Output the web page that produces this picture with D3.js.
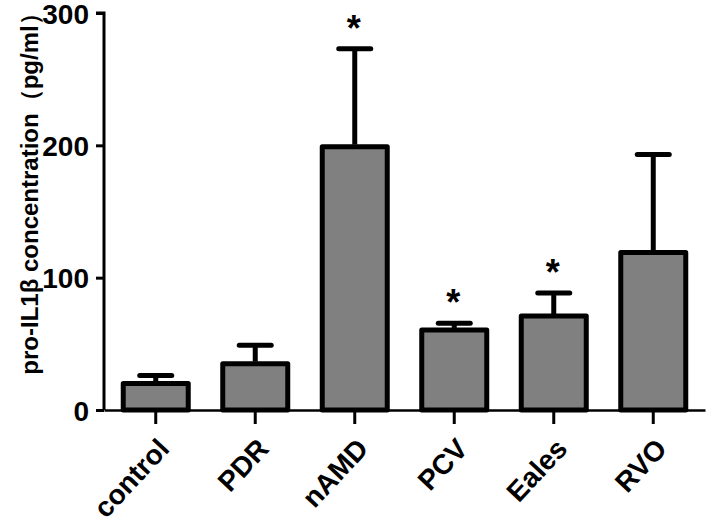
<!DOCTYPE html>
<html>
<head>
<meta charset="utf-8">
<script src="https://cdn.jsdelivr.net/npm/d3@7"></script>
<style>
  body { margin: 0; background: #fff; }
  svg text { font-family: Arial, "Liberation Sans", sans-serif; font-weight: bold; fill: #000; }
</style>
</head>
<body>
<div id="chart"></div>
<script>
// groups and measured means / error tops (pg/ml)
var groups = ['control', 'PDR', 'nAMD', 'PCV', 'Eales', 'RVO'];
var means = [20, 35, 199, 60.5, 71, 119];
var errs = [6, 14, 74, 5, 17.5, 74];
var significant = [false, false, true, true, true, false];
var yTicks = [0, 100, 200, 300];

var width = 710, height = 524;
var margin = {top: 13, right: 4, bottom: 114, left: 104};

var svg = d3.select('#chart').append('svg')
  .attr('width', width)
  .attr('height', height);

var x = d3.scaleBand()
  .domain(groups)
  .range([margin.left, width - margin.right - 1])
  .paddingInner(0.3)
  .paddingOuter(0.17);

var y = d3.scaleLinear()
  .domain([0, 300])
  .range([height - margin.bottom, margin.top]);

// bars
var bw = 65;
svg.selectAll('.bar')
  .data(groups)
  .enter()
  .append('rect')
  .attr('class', 'bar')
  .attr('x', function(d) { return x(d) + x.bandwidth() / 2 - bw / 2; })
  .attr('y', function(d, i) { return y(means[i]); })
  .attr('width', bw)
  .attr('height', function(d, i) { return y(0) - y(means[i]); })
  .attr('fill', '#808080')
  .attr('stroke', '#000')
  .attr('stroke-width', 5)
  .attr('stroke-linejoin', 'round');

// error bars (upper only)
var eb = svg.selectAll('.err')
  .data(groups)
  .enter()
  .append('g')
  .attr('class', 'err');

eb.append('line')
  .attr('x1', function(d) { return x(d) + x.bandwidth() / 2; })
  .attr('x2', function(d) { return x(d) + x.bandwidth() / 2; })
  .attr('y1', function(d, i) { return y(means[i]) - 2; })
  .attr('y2', function(d, i) { return y(means[i] + errs[i]); })
  .attr('stroke', '#000')
  .attr('stroke-width', 5);

eb.append('line')
  .attr('x1', function(d) { return x(d) + x.bandwidth() / 2 - 16; })
  .attr('x2', function(d) { return x(d) + x.bandwidth() / 2 + 16; })
  .attr('y1', function(d, i) { return y(means[i] + errs[i]); })
  .attr('y2', function(d, i) { return y(means[i] + errs[i]); })
  .attr('stroke', '#000')
  .attr('stroke-width', 5)
  .attr('stroke-linecap', 'round');

// asterisks
svg.selectAll('.star')
  .data(groups.filter(function(d, i) { return significant[i]; }))
  .enter()
  .append('text')
  .attr('class', 'star')
  .attr('x', function(d) { return x(d) + x.bandwidth() / 2 - 1; })
  .attr('y', function(d) { var i = groups.indexOf(d); return y(means[i] + errs[i]) - 8; })
  .attr('text-anchor', 'middle')
  .style('font-size', '36px')
  .text('*');

// y axis
var yAxis = svg.append('g')
  .attr('transform', 'translate(' + margin.left + ',0)')
  .call(d3.axisLeft(y).tickValues(yTicks).tickSize(8).tickPadding(7));
yAxis.select('.domain').attr('stroke-width', 3).attr('d', 'M-8,' + y(300) + 'H0V' + y(0));
yAxis.selectAll('.tick line').attr('stroke-width', 3);
yAxis.selectAll('.tick text').style('font-size', '28px').attr('dy', '0.36em');

// x axis
var xAxis = svg.append('g')
  .attr('transform', 'translate(0,' + y(0) + ')')
  .call(d3.axisBottom(x).tickSize(14).tickSizeOuter(0));
xAxis.select('.domain').attr('stroke-width', 2.5);
xAxis.selectAll('.tick line').attr('stroke-width', 3);
xAxis.selectAll('.tick text')
  .style('font-size', '28px')
  .attr('text-anchor', 'end')
  .attr('x', 0)
  .attr('y', 0)
  .attr('dy', '0')
  .attr('transform', 'translate(15,40) rotate(-47)');

// y title
svg.append('text')
  .attr('transform', 'translate(38,188) rotate(-90)')
  .attr('text-anchor', 'middle')
  .style('font-size', '24px')
  .text('pro-IL1β concentration（pg/ml）');
</script>
</body>
</html>
